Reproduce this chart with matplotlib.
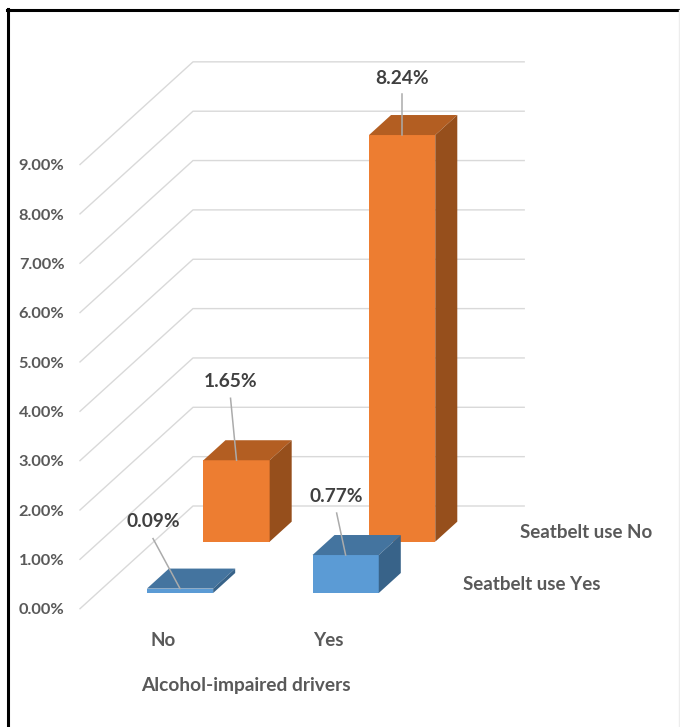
import matplotlib
matplotlib.use('Agg')
import matplotlib.pyplot as plt
from matplotlib.patches import Polygon
from matplotlib.lines import Line2D

# data
categories = ['No', 'Yes']
series_names = ['Seatbelt use Yes', 'Seatbelt use No']
seatbelt_yes = [0.09, 0.77]
seatbelt_no = [1.65, 8.24]
y_ticks = [0, 1, 2, 3, 4, 5, 6, 7, 8, 9]
axis_title = 'Alcohol-impaired drivers'

# how the chart sits on the 680x727 canvas
W, H = 680, 727
X0, Y0 = 80, 608.7      # pixel of category axis start, value 0, front of floor
UX, UY = 165.6, 49.35   # pixels per category / per percent
DX, DY = 113 / UX, 102.7 / UY   # shift of the full depth, in data units
BAR_W = 0.4
BAR_D = 0.195

COLORS = {
    'Seatbelt use Yes': ('#5B9BD5', '#44749F', '#386389'),
    'Seatbelt use No': ('#ED7D31', '#B35E22', '#964F1C'),
}
GRID = '#D9D9D9'
TEXT = '#595959'
LABEL = '#404040'
LEADER = '#ABABAB'

plt.rcParams['font.family'] = ['Lato', 'DejaVu Sans']

fig = plt.figure(figsize=(W / 100, H / 100), dpi=100, facecolor='white')
ax = fig.add_axes([0, 0, 1, 1])
ax.set_xlim(-X0 / UX, (W - X0) / UX)
ax.set_ylim((Y0 - H) / UY, Y0 / UY)
ax.axis('off')


def proj(x, v, d):
    """Oblique projection: category x, value v, depth d (0 front, 1 back)."""
    return x + DX * d, v + DY * d


def draw_bar(x, value, depth, faces):
    x1, x2 = x - BAR_W / 2, x + BAR_W / 2
    d1, d2 = depth - BAR_D / 2, depth + BAR_D / 2
    front, top, side = faces
    ax.add_patch(Polygon([proj(x1, 0, d1), proj(x2, 0, d1), proj(x2, value, d1), proj(x1, value, d1)],
                         fc=front, ec='none', zorder=3))
    ax.add_patch(Polygon([proj(x1, value, d1), proj(x2, value, d1), proj(x2, value, d2), proj(x1, value, d2)],
                         fc=top, ec='none', zorder=3))
    ax.add_patch(Polygon([proj(x2, 0, d1), proj(x2, 0, d2), proj(x2, value, d2), proj(x2, value, d1)],
                         fc=side, ec='none', zorder=3))
    return proj(x, value, d1)


# gridlines on the side and back walls
for t in y_ticks:
    xs = [proj(0, t, 0)[0], proj(0, t, 1)[0], proj(2, t, 1)[0]]
    ys = [proj(0, t, 0)[1], proj(0, t, 1)[1], proj(2, t, 1)[1]]
    ax.plot(xs, ys, color=GRID, lw=1.0, zorder=1)
    ax.text(-15.5 / UX, t - 1.8 / UY, f'{t:.2f}%', ha='right', va='center',
            fontsize=11.8, color=TEXT, fontweight='bold')

# offsets in pixels: leader end and label centre, relative to the bar top
label_offsets = {
    ('Seatbelt use No', 0): ((-6, 62), (-6, 79)),
    ('Seatbelt use No', 1): ((0, 41), (0, 57)),
    ('Seatbelt use Yes', 0): ((-27, 50), (-27, 67)),
    ('Seatbelt use Yes', 1): ((-9, 42), (-9, 59)),
}

# back row first so the front row overlaps it
rows = [('Seatbelt use No', seatbelt_no, 0.75), ('Seatbelt use Yes', seatbelt_yes, 0.25)]
for name, values, depth in rows:
    for i, val in enumerate(values):
        top_xy = draw_bar(i + 0.5, val, depth, COLORS[name])
        (lx, ly), (tx, ty) = label_offsets[(name, i)]
        px, py = top_xy
        ax.plot([px, px + lx / UX], [py, py + ly / UY], color=LEADER, lw=1.1, zorder=4)
        ax.text(px + tx / UX, py + ty / UY, f'{val:.2f}%', ha='center', va='center',
                fontsize=13.8, color=LABEL, fontweight='bold', zorder=5)

    # series name beside the floor, right of the last category
    sx, sy = proj(2, 0, depth)
    ax.text(sx + 24 / UX, sy - 1 / UY, name, ha='left', va='center',
            fontsize=13.5, color=TEXT, fontweight='bold')

for i, cat in enumerate(categories):
    ax.text(i + 0.5, -32 / UY, cat, ha='center', va='center',
            fontsize=13.5, color=TEXT, fontweight='bold')

ax.text((246 - X0) / UX, (Y0 - 686) / UY, axis_title, ha='center', va='center',
        fontsize=13.8, color=TEXT, fontweight='bold')

# picture frame
fig.add_artist(Line2D([7.5 / W, 7.5 / W], [0, 1 - 9 / H], color='black', lw=2.2))
fig.add_artist(Line2D([6.5 / W, 1], [1 - 9.5 / H, 1 - 9.5 / H], color='black', lw=2.2))
fig.add_artist(Line2D([678.5 / W, 678.5 / W], [0, 1 - 10 / H], color='#EDEDED', lw=1))

fig.savefig('out.png', dpi=100)
